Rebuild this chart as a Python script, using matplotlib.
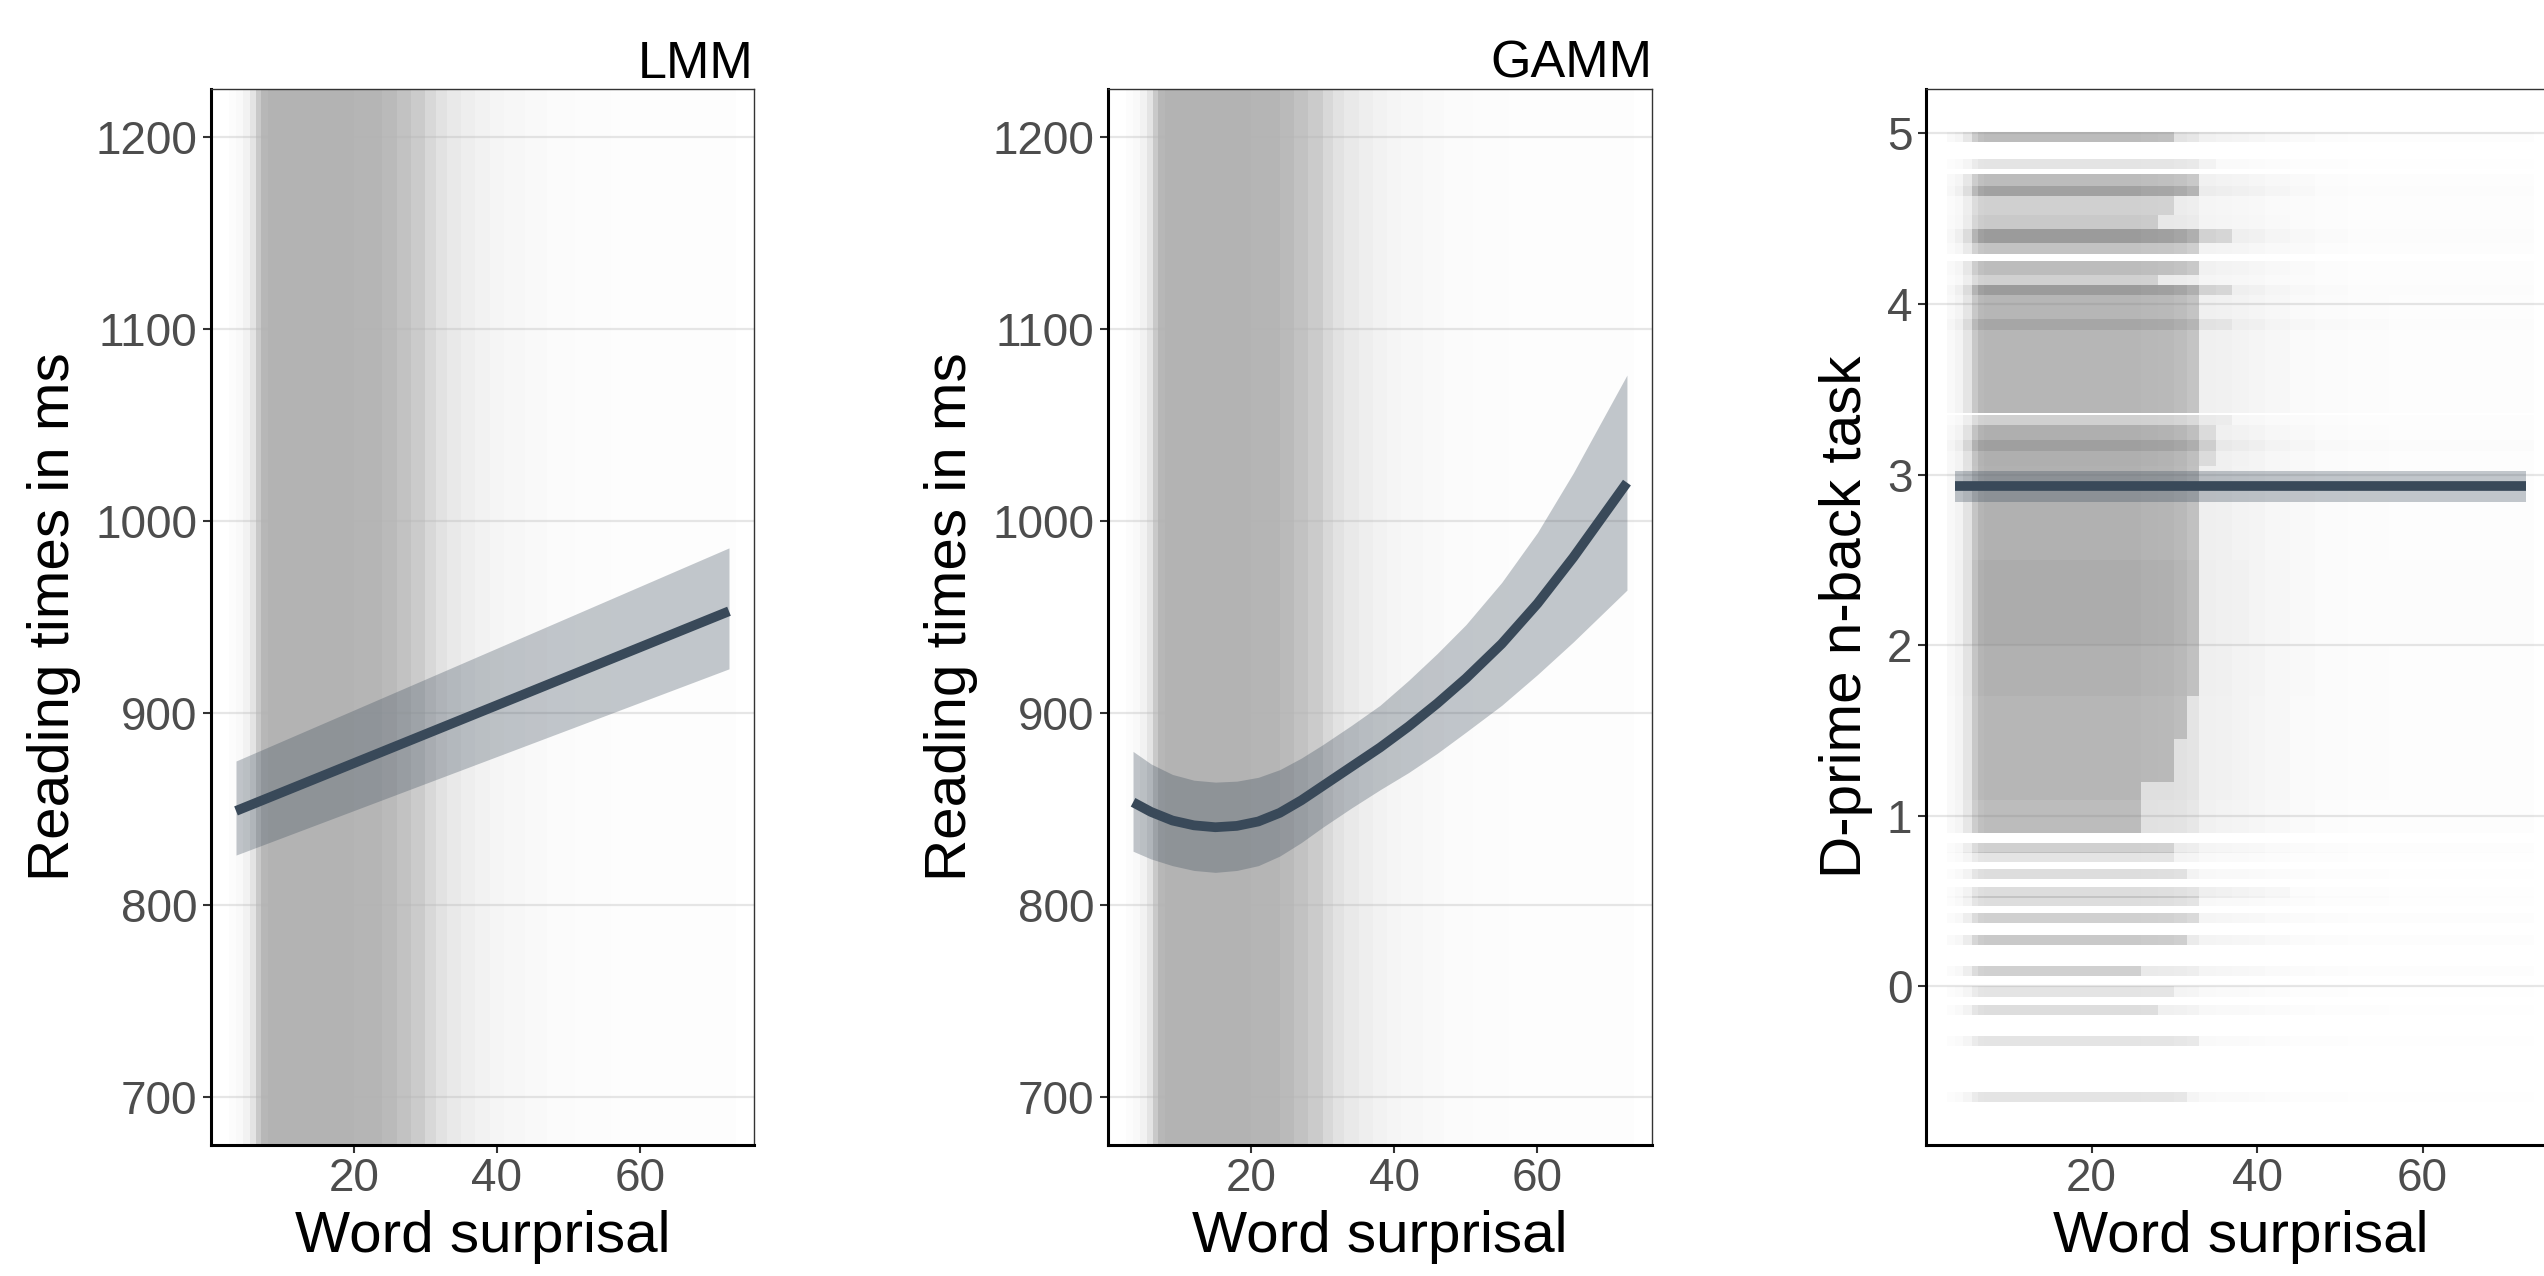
import matplotlib
matplotlib.use("Agg")
import matplotlib.pyplot as plt
import numpy as np

plt.rcParams['font.family'] = ['Liberation Sans', 'DejaVu Sans']

# model fits
lmm_x = [3.5, 72.5]
lmm_fit = [849, 953]
lmm_lo = [826, 923]
lmm_hi = [875, 986]

gamm_x = [3.5, 6, 9, 12, 15, 18, 21, 24, 27, 30, 34, 38, 42, 46, 50, 55, 60, 65, 72.5]
gamm_fit = [853.5, 848.5, 844, 841.5, 840.5, 841.2, 843.5, 848, 854.5, 862, 872, 882, 893, 905, 918, 936, 957, 981, 1020]
gamm_lo = [828, 824, 820.5, 818, 817, 818, 820.5, 825.5, 832.5, 840.5, 850.5, 860, 869, 879, 890, 904, 920, 937, 964]
gamm_hi = [880, 873.5, 868, 865, 864, 864.5, 866.5, 870.5, 876.5, 883.5, 893.5, 904, 917, 931, 946, 968, 994, 1025, 1076]

dprime_x = [3.5, 72.5]
dprime_fit = [2.93, 2.93]
dprime_lo = [2.84, 2.84]
dprime_hi = [3.02, 3.02]

# raw data cloud: how dense the points are along word surprisal
surp_edges = [2.5, 3.5, 4.5, 5.5, 6.3, 7, 8, 10, 15, 20, 24, 26, 28, 30, 31.5, 33, 35, 37, 39, 41,
              44, 47, 51, 56, 65, 73.5]
rt_density = [0.04, 0.08, 0.16, 0.35, 0.7, 0.95, 1.0, 1.0, 1.0, 0.97, 0.9, 0.8, 0.68, 0.5, 0.38,
              0.28, 0.22, 0.17, 0.13, 0.1, 0.07, 0.045, 0.03, 0.02, 0.02]
dp_density = [0.08, 0.15, 0.35, 0.75, 0.95, 1.0, 1.0, 1.0, 1.0, 1.0, 1.0, 0.97, 0.95, 0.9, 0.8,
              0.45, 0.4, 0.35, 0.3, 0.22, 0.15, 0.09, 0.06, 0.05, 0.05]

# d-prime values of participants (bands of points), darkness, surprisal where the band thins out
band_lo = [4.95, 4.79, 4.69, 4.63, 4.52, 4.44, 4.36, 4.29, 4.17, 4.11, 4.05, 3.84, 3.85, 3.36, 3.29, 3.05, 3.14,
           2.50, 2.00, 1.70, 1.45, 1.20, 1.09, 0.90, 0.78, 0.73, 0.63, 0.52, 0.47, 0.37, 0.24, 0.06, -0.06,
           -0.17, -0.35, -0.68]
band_hi = [5.01, 4.85, 4.76, 4.69, 4.63, 4.52, 4.44, 4.36, 4.25, 4.17, 4.11, 4.05, 3.91, 3.84, 3.35, 3.29, 3.20,
           3.05, 2.50, 2.00, 1.70, 1.45, 1.20, 1.09, 0.84, 0.79, 0.69, 0.58, 0.53, 0.43, 0.30, 0.12, 0.00,
           -0.11, -0.29, -0.62]
band_weight = [0.5, 0.2, 0.5, 0.7, 0.35, 0.4, 0.75, 0.45, 0.5, 0.35, 0.75, 0.55, 0.25, 0.55, 0.35, 0.6, 0.3,
               0.58, 0.62, 0.58, 0.55, 0.55, 0.55, 0.5, 0.35, 0.2, 0.25, 0.25, 0.25, 0.35, 0.4, 0.35, 0.2,
               0.25, 0.2, 0.2]
band_xmax = [30, 35, 33, 33, 30, 27, 36, 32, 32, 27, 36, 33, 36, 33, 36, 35, 35,
             33, 33, 33, 31, 29, 26, 25, 30, 30, 31, 44, 33, 33, 31, 26, 30,
             27, 33, 31]

line_col = '#394959'
W, H = 2544, 1276
fig = plt.figure(figsize=(W / 100, H / 100), dpi=100)

bottom = (H - 1145) / H
height = (1145 - 89) / H
ax1 = fig.add_axes([211 / W, bottom, 543 / W, height])
ax2 = fig.add_axes([1108 / W, bottom, 544 / W, height])
ax3 = fig.add_axes([1926 / W, bottom, 629 / W, height])

lefts = np.array(surp_edges[:-1])
widths = np.diff(surp_edges)


def style(ax, ylabel):
    ax.set_xlim(0, 76)
    ax.set_xticks([20, 40, 60])
    ax.set_axisbelow(True)
    ax.grid(axis='y', color='#E6E6E6', linewidth=1.6)
    ax.grid(axis='x', visible=False)
    for s in ['top', 'right']:
        ax.spines[s].set_linewidth(1.0)
        ax.spines[s].set_color('#333333')
    for s in ['left', 'bottom']:
        ax.spines[s].set_linewidth(2.2)
        ax.spines[s].set_color('black')
    ax.tick_params(length=5.8, width=1.5, color='#333333', labelcolor='#4D4D4D', labelsize=33)
    ax.tick_params(axis='y', pad=4)
    ax.tick_params(axis='x', pad=3)
    ax.set_xlabel('Word surprisal', fontsize=42, labelpad=6)
    ax.set_ylabel(ylabel, fontsize=42, labelpad=10)


# reading time panels
for ax, xs, fit, lo, hi, title in [(ax1, lmm_x, lmm_fit, lmm_lo, lmm_hi, 'LMM'),
                                   (ax2, gamm_x, gamm_fit, gamm_lo, gamm_hi, 'GAMM')]:
    cols = [(0.70, 0.70, 0.70, d) for d in rt_density]
    ax.bar(lefts, 700, width=widths, bottom=600, align='edge', color=cols, linewidth=0, zorder=1)
    ax.fill_between(xs, lo, hi, color=line_col, alpha=0.3, linewidth=0, zorder=2)
    ax.plot(xs, fit, color=line_col, linewidth=7, solid_capstyle='butt', solid_joinstyle='round', zorder=3)
    ax.set_ylim(675, 1225)
    ax.set_yticks([700, 800, 900, 1000, 1100, 1200])
    style(ax, 'Reading times in ms')
    ax.set_title(title, loc='right', fontsize=37.5, pad=5)

# d-prime panel
for lo, hi, w, xmax in zip(band_lo, band_hi, band_weight, band_xmax):
    cols = []
    for left, d in zip(lefts, dp_density):
        a = w * d * (1.0 if left < xmax else 0.45)
        cols.append((0.48, 0.48, 0.48, min(a, 1.0)))
    ax3.bar(lefts, hi - lo, width=widths, bottom=lo, align='edge', color=cols, linewidth=0, zorder=1)
ax3.fill_between(dprime_x, dprime_lo, dprime_hi, color=line_col, alpha=0.3, linewidth=0, zorder=2)
ax3.plot(dprime_x, dprime_fit, color=line_col, linewidth=7, solid_capstyle='butt', zorder=3)
ax3.set_ylim(-0.93, 5.26)
ax3.set_yticks([0, 1, 2, 3, 4, 5])
style(ax3, 'D-prime n-back task')

fig.savefig('out.png', dpi=100)
